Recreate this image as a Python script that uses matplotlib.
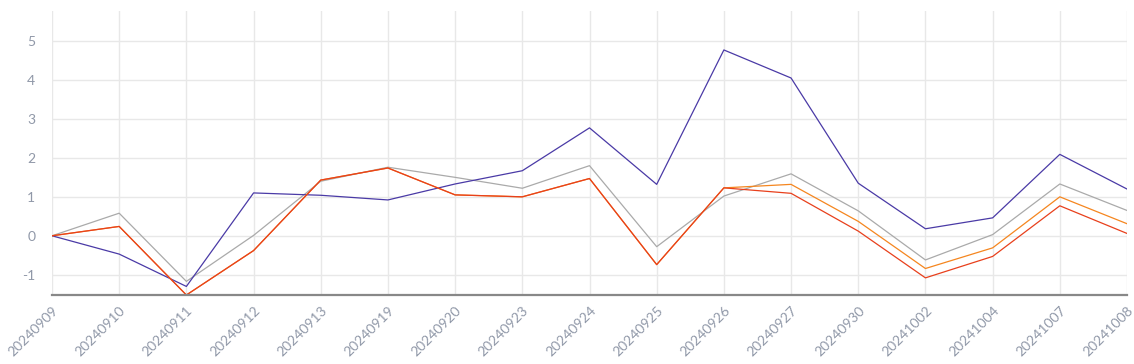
import numpy as np
import matplotlib.pyplot as plt

dates = ['20240909', '20240910', '20240911', '20240912', '20240913', '20240919',
         '20240920', '20240923', '20240924', '20240925', '20240926', '20240927',
         '20240930', '20241002', '20241004', '20241007', '20241008']

blue = [0, -0.47, -1.30, 1.10, 1.04, 0.92, 1.33, 1.67, 2.77, 1.32, 4.77, 4.05,
        1.35, 0.18, 0.46, 2.09, 1.20]
gray = [0, 0.58, -1.17, 0.01, 1.40, 1.76, 1.50, 1.22, 1.80, -0.28, 1.02, 1.59,
        0.64, -0.62, 0.03, 1.33, 0.65]
orange = [0, 0.24, -1.52, -0.38, 1.43, 1.74, 1.05, 1.00, 1.47, -0.74, 1.23, 1.32,
          0.37, -0.84, -0.31, 1.00, 0.31]
red = [0, 0.24, -1.52, -0.38, 1.43, 1.74, 1.05, 1.00, 1.47, -0.74, 1.23, 1.09,
       0.12, -1.08, -0.53, 0.77, 0.06]

plt.rcParams['font.family'] = ['Lato', 'DejaVu Sans']
plt.rcParams['axes.unicode_minus'] = False

fig = plt.figure(figsize=(11.34, 3.64), dpi=100)
ax = fig.add_axes([52 / 1134, 69 / 364, 1075 / 1134, 284 / 364])

x = np.arange(len(dates))
ax.plot(x, gray, color='#aaaaaa', lw=0.9)
ax.plot(x, blue, color='#4a3aa6', lw=0.9)
ax.plot(x, orange, color='#f5861f', lw=0.9)
ax.plot(x, red, color='#e8401c', lw=0.9)

ax.set_xlim(0, len(dates) - 1)
ax.set_ylim(min(red), 5.77)
ax.set_yticks(range(-1, 6))
ax.set_xticks(x)
ax.set_xticklabels(dates, rotation=45, ha='right', va='top', rotation_mode='anchor')

ax.grid(True, color='#e8e8e8', lw=1)
ax.set_axisbelow(True)
for s in ['top', 'right', 'left']:
    ax.spines[s].set_visible(False)
ax.spines['bottom'].set_color('#888888')
ax.spines['bottom'].set_linewidth(1.6)
ax.tick_params(axis='both', length=0, colors='#9098a8', labelsize=10)
ax.tick_params(axis='y', pad=12)
ax.tick_params(axis='x', pad=7)

fig.savefig('out.png', dpi=100)
